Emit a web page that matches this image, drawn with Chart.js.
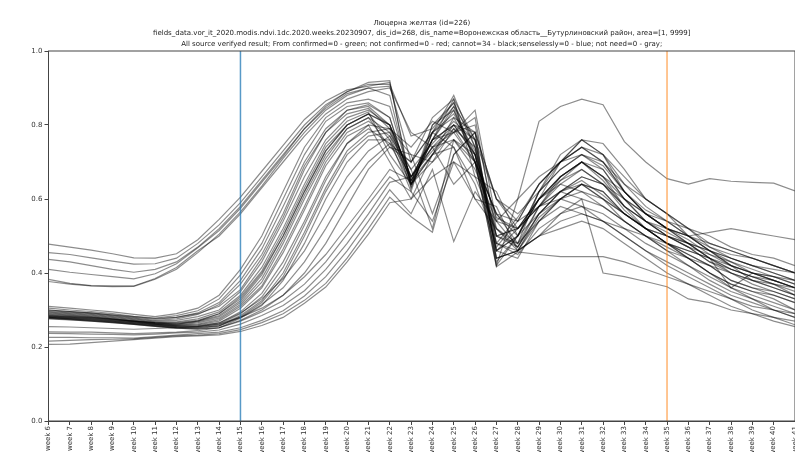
<!DOCTYPE html>
<html>
<head>
<meta charset="utf-8">
<script src="https://cdn.jsdelivr.net/npm/chart.js@4.4.1/dist/chart.umd.min.js"></script>
<style>
  html, body { margin: 0; padding: 0; background: #fff; overflow: hidden; }
  #wrap { width: 795px; height: 452px; }
</style>
</head>
<body>
<div id="wrap"><canvas id="ndviChart" width="795" height="452"></canvas></div>
<script>
const titleLines = [
  'Люцерна желтая (id=226)',
  'fields_data.vor_it_2020.modis.ndvi.1dc.2020.weeks.20230907, dis_id=268, dis_name=Воронежская область__Бутурлиновский район, area=[1, 9999]',
  'All source verifyed result; From confirmed=0 - green; not confirmed=0 - red; cannot=34 - black;senselessly=0 - blue; not need=0 - gray;'
];

const weeks = [];
for (let w = 6; w <= 41; w++) weeks.push('week ' + w);

const yTicks = [0, 0.2, 0.4, 0.6, 0.8, 1.0];
const startWeek = 'week 15';
const endWeek = 'week 35';

// ndvi per field, weeks 6..41
const f01 = [0.478,0.470,0.462,0.452,0.441,0.440,0.452,0.490, 0.545,0.605,0.675,0.745,0.815,0.865,0.895,0.905,0.915, 0.640,0.760,0.800,0.720,0.550,0.520,0.600,0.660,0.700,0.660,0.580,0.540,0.520,0.500,0.510,0.520,0.510,0.500,0.490];
const f02 = [0.455,0.450,0.441,0.432,0.424,0.425,0.440,0.480, 0.530,0.590,0.660,0.730,0.800,0.855,0.890,0.910,0.910, 0.770,0.790,0.860,0.700,0.560,0.540,0.640,0.700,0.740,0.700,0.620,0.560,0.520,0.480,0.460,0.430,0.400,0.390,0.380];
const f03 = [0.437,0.430,0.420,0.410,0.402,0.410,0.430,0.470, 0.520,0.580,0.650,0.720,0.790,0.845,0.885,0.900,0.880, 0.640,0.720,0.780,0.820,0.500,0.480,0.580,0.650,0.680,0.640,0.570,0.520,0.480,0.450,0.420,0.380,0.360,0.350,0.330];
const f04 = [0.410,0.402,0.396,0.390,0.384,0.398,0.425,0.468, 0.515,0.575,0.645,0.715,0.790,0.850,0.890,0.915,0.920, 0.630,0.780,0.850,0.760,0.600,0.560,0.620,0.680,0.720,0.690,0.620,0.570,0.540,0.520,0.470,0.440,0.420,0.410,0.400];
const f05 = [0.383,0.372,0.366,0.365,0.365,0.385,0.415,0.460, 0.500,0.560,0.630,0.700,0.770,0.830,0.870,0.890,0.900, 0.780,0.740,0.780,0.840,0.540,0.470,0.560,0.620,0.650,0.610,0.560,0.520,0.500,0.470,0.430,0.410,0.390,0.370,0.360];
const f06 = [0.377,0.370,0.365,0.363,0.364,0.383,0.410,0.455, 0.505,0.565,0.635,0.710,0.780,0.840,0.880,0.900,0.905, 0.700,0.820,0.870,0.660,0.620,0.500,0.600,0.700,0.760,0.750,0.680,0.600,0.560,0.520,0.500,0.470,0.450,0.440,0.420];
const f07 = [0.310,0.305,0.300,0.295,0.288,0.282,0.290,0.305, 0.340,0.410,0.500,0.620,0.740,0.820,0.860,0.870,0.850, 0.650,0.760,0.870,0.760,0.460,0.500,0.620,0.680,0.720,0.680,0.600,0.540,0.500,0.480,0.440,0.400,0.380,0.370,0.350];
const f08 = [0.305,0.300,0.296,0.290,0.283,0.278,0.285,0.298, 0.330,0.395,0.480,0.600,0.720,0.810,0.850,0.860,0.820, 0.640,0.800,0.840,0.700,0.500,0.470,0.580,0.660,0.700,0.660,0.620,0.560,0.520,0.490,0.450,0.420,0.400,0.380,0.360];
const f09 = [0.300,0.296,0.292,0.286,0.280,0.275,0.280,0.292, 0.320,0.380,0.465,0.580,0.700,0.790,0.840,0.850,0.800, 0.660,0.740,0.800,0.780,0.440,0.460,0.550,0.600,0.640,0.600,0.540,0.500,0.470,0.440,0.400,0.370,0.350,0.340,0.320];
const f10 = [0.298,0.294,0.290,0.284,0.278,0.272,0.276,0.288, 0.315,0.370,0.450,0.560,0.690,0.780,0.830,0.845,0.790, 0.720,0.700,0.760,0.700,0.420,0.600,0.810,0.850,0.870,0.855,0.755,0.700,0.655,0.640,0.655,0.648,0.645,0.643,0.622];
const f11 = [0.296,0.292,0.288,0.282,0.276,0.270,0.272,0.282, 0.300,0.350,0.430,0.540,0.660,0.760,0.820,0.840,0.800, 0.630,0.780,0.880,0.740,0.480,0.550,0.640,0.700,0.760,0.720,0.640,0.580,0.540,0.500,0.460,0.440,0.420,0.400,0.380];
const f12 = [0.294,0.290,0.286,0.280,0.274,0.268,0.268,0.276, 0.295,0.340,0.415,0.520,0.640,0.750,0.810,0.835,0.720, 0.640,0.720,0.820,0.720,0.430,0.500,0.600,0.650,0.700,0.650,0.580,0.540,0.510,0.480,0.440,0.410,0.390,0.370,0.340];
const f13 = [0.292,0.288,0.284,0.278,0.272,0.266,0.266,0.272, 0.290,0.335,0.405,0.510,0.630,0.740,0.800,0.830,0.800, 0.660,0.760,0.780,0.800,0.520,0.470,0.560,0.620,0.600,0.400,0.390,0.377,0.363,0.330,0.320,0.300,0.290,0.280,0.270];
const f14 = [0.290,0.286,0.282,0.276,0.270,0.266,0.264,0.270, 0.285,0.325,0.395,0.500,0.620,0.730,0.800,0.830,0.760, 0.620,0.800,0.860,0.740,0.460,0.500,0.620,0.700,0.740,0.700,0.620,0.560,0.520,0.480,0.440,0.420,0.400,0.390,0.370];
const f15 = [0.288,0.285,0.281,0.276,0.270,0.265,0.262,0.268, 0.282,0.320,0.385,0.490,0.610,0.720,0.790,0.820,0.780, 0.650,0.740,0.760,0.680,0.540,0.600,0.660,0.700,0.720,0.700,0.640,0.600,0.560,0.500,0.460,0.420,0.380,0.360,0.340];
const f16 = [0.286,0.283,0.280,0.275,0.270,0.264,0.260,0.265, 0.278,0.315,0.375,0.480,0.600,0.710,0.790,0.820,0.740, 0.700,0.780,0.820,0.780,0.440,0.460,0.500,0.560,0.600,0.580,0.540,0.500,0.460,0.440,0.420,0.400,0.380,0.360,0.340];
const f17 = [0.284,0.281,0.278,0.274,0.269,0.263,0.259,0.262, 0.274,0.310,0.365,0.465,0.580,0.700,0.780,0.810,0.770, 0.640,0.760,0.840,0.720,0.460,0.520,0.580,0.640,0.680,0.640,0.580,0.540,0.500,0.470,0.450,0.430,0.410,0.390,0.370];
const f18 = [0.283,0.280,0.277,0.273,0.268,0.262,0.258,0.260, 0.270,0.305,0.360,0.455,0.570,0.690,0.770,0.800,0.700, 0.600,0.720,0.800,0.760,0.480,0.460,0.540,0.600,0.640,0.620,0.560,0.520,0.480,0.450,0.420,0.380,0.360,0.340,0.320];
const f19 = [0.282,0.279,0.276,0.272,0.267,0.262,0.257,0.258, 0.265,0.292,0.330,0.385,0.460,0.560,0.660,0.730,0.770, 0.680,0.520,0.760,0.720,0.500,0.520,0.600,0.640,0.620,0.600,0.560,0.520,0.500,0.480,0.460,0.440,0.420,0.400,0.380];
const f20 = [0.281,0.278,0.275,0.271,0.266,0.261,0.256,0.256, 0.265,0.295,0.345,0.430,0.540,0.660,0.750,0.790,0.750, 0.640,0.700,0.790,0.700,0.417,0.457,0.450,0.444,0.444,0.444,0.430,0.410,0.390,0.370,0.350,0.330,0.310,0.300,0.290];
const f21 = [0.280,0.277,0.274,0.270,0.265,0.260,0.255,0.255, 0.262,0.290,0.335,0.415,0.530,0.650,0.750,0.800,0.790, 0.650,0.780,0.830,0.730,0.470,0.540,0.640,0.700,0.740,0.720,0.660,0.600,0.560,0.520,0.480,0.460,0.440,0.420,0.400];
const f22 = [0.280,0.276,0.273,0.269,0.264,0.259,0.254,0.253, 0.258,0.280,0.315,0.360,0.430,0.520,0.620,0.700,0.750, 0.700,0.780,0.740,0.600,0.520,0.480,0.540,0.580,0.560,0.540,0.520,0.500,0.480,0.460,0.440,0.410,0.390,0.380,0.360];
const f23 = [0.279,0.276,0.272,0.268,0.263,0.258,0.253,0.252, 0.258,0.285,0.325,0.400,0.510,0.630,0.730,0.780,0.790, 0.740,0.810,0.780,0.700,0.560,0.480,0.620,0.720,0.760,0.720,0.620,0.560,0.520,0.500,0.470,0.450,0.440,0.420,0.400];
const f24 = [0.278,0.275,0.271,0.267,0.262,0.257,0.252,0.250, 0.256,0.282,0.320,0.390,0.500,0.620,0.720,0.770,0.780, 0.680,0.750,0.810,0.760,0.420,0.500,0.600,0.660,0.700,0.660,0.600,0.540,0.500,0.470,0.430,0.400,0.370,0.350,0.330];
const f25 = [0.277,0.274,0.270,0.266,0.261,0.256,0.251,0.249, 0.252,0.272,0.300,0.340,0.400,0.480,0.580,0.680,0.740, 0.720,0.560,0.720,0.780,0.600,0.520,0.580,0.620,0.660,0.640,0.600,0.560,0.540,0.500,0.460,0.420,0.400,0.380,0.360];
const f26 = [0.276,0.273,0.270,0.266,0.261,0.256,0.251,0.248, 0.252,0.278,0.312,0.380,0.480,0.600,0.700,0.760,0.760, 0.660,0.760,0.850,0.700,0.440,0.460,0.560,0.620,0.660,0.640,0.580,0.520,0.480,0.440,0.400,0.370,0.350,0.330,0.300];
const f27 = [0.300,0.296,0.292,0.287,0.282,0.277,0.280,0.290, 0.310,0.355,0.440,0.550,0.680,0.780,0.840,0.855,0.820, 0.640,0.760,0.800,0.720,0.460,0.440,0.540,0.600,0.640,0.620,0.560,0.520,0.480,0.460,0.440,0.360,0.400,0.380,0.360];
const f28 = [0.285,0.282,0.279,0.275,0.270,0.265,0.262,0.270, 0.290,0.330,0.400,0.500,0.620,0.730,0.800,0.830,0.800, 0.660,0.730,0.790,0.740,0.500,0.520,0.600,0.660,0.700,0.680,0.600,0.560,0.520,0.500,0.480,0.460,0.440,0.420,0.400];
const f29 = [0.255,0.254,0.252,0.250,0.248,0.250,0.252,0.255, 0.262,0.280,0.305,0.340,0.390,0.450,0.525,0.600,0.680, 0.650,0.720,0.740,0.640,0.480,0.450,0.520,0.560,0.580,0.560,0.520,0.480,0.450,0.420,0.390,0.360,0.340,0.320,0.300];
const f30 = [0.241,0.240,0.240,0.238,0.236,0.238,0.240,0.244, 0.252,0.270,0.295,0.325,0.370,0.430,0.505,0.585,0.660, 0.620,0.540,0.700,0.660,0.520,0.460,0.500,0.540,0.560,0.540,0.500,0.460,0.430,0.400,0.370,0.340,0.320,0.300,0.280];
const f31 = [0.237,0.236,0.235,0.234,0.233,0.235,0.238,0.240, 0.246,0.262,0.285,0.312,0.352,0.410,0.480,0.560,0.645, 0.660,0.740,0.640,0.700,0.560,0.500,0.560,0.600,0.620,0.580,0.540,0.500,0.460,0.420,0.380,0.350,0.330,0.310,0.290];
const f32 = [0.226,0.226,0.225,0.225,0.224,0.228,0.232,0.236, 0.240,0.252,0.272,0.298,0.338,0.390,0.460,0.540,0.625, 0.560,0.680,0.485,0.620,0.540,0.520,0.580,0.620,0.640,0.600,0.560,0.520,0.480,0.440,0.400,0.360,0.330,0.300,0.280];
const f33 = [0.216,0.218,0.220,0.221,0.222,0.226,0.230,0.232, 0.236,0.247,0.266,0.290,0.326,0.372,0.440,0.520,0.605, 0.552,0.510,0.720,0.780,0.600,0.540,0.580,0.600,0.580,0.540,0.500,0.460,0.420,0.390,0.360,0.330,0.300,0.280,0.260];
const f34 = [0.207,0.208,0.212,0.216,0.220,0.224,0.228,0.230, 0.233,0.242,0.258,0.280,0.318,0.362,0.430,0.505,0.590, 0.600,0.660,0.700,0.600,0.580,0.460,0.500,0.520,0.540,0.520,0.480,0.440,0.400,0.370,0.340,0.310,0.290,0.270,0.255];

const fields = [f01, f02, f03, f04, f05, f06, f07, f08, f09, f10, f11, f12, f13, f14, f15, f16, f17,
                f18, f19, f20, f21, f22, f23, f24, f25, f26, f27, f28, f29, f30, f31, f32, f33, f34];

const axisColor = '#444';
const tickFont = { family: 'DejaVu Sans', size: 7 };

// figure title over the plot, centred on the axes box
const titlePlugin = {
  id: 'figTitle',
  afterDraw(chart) {
    const { ctx, chartArea } = chart;
    const cx = (chartArea.left + chartArea.right) / 2;
    ctx.save();
    ctx.fillStyle = '#222';
    ctx.font = '7px "DejaVu Sans"';
    ctx.textAlign = 'center';
    ctx.textBaseline = 'middle';
    titleLines.forEach((t, i) => ctx.fillText(t, cx, 23 + i * 10.5));
    ctx.restore();
  }
};

// full box around the axes (top and right spines too)
const framePlugin = {
  id: 'frame',
  afterDatasetsDraw(chart) {
    const { ctx, chartArea: a } = chart;
    ctx.save();
    ctx.strokeStyle = axisColor;
    ctx.lineWidth = 1;
    ctx.strokeRect(a.left, a.top, a.right - a.left, a.bottom - a.top);
    ctx.restore();
  }
};

const datasets = fields.map(vals => ({
  data: vals,
  borderColor: 'rgba(0,0,0,0.45)',
  borderWidth: 1.2,
  pointRadius: 0,
  tension: 0,
  fill: false
}));

datasets.push({
  data: [{ x: startWeek, y: 0 }, { x: startWeek, y: 1 }],
  borderColor: 'rgba(31,119,180,0.75)',
  borderWidth: 1.5,
  pointRadius: 0,
  order: -1
});
datasets.push({
  data: [{ x: endWeek, y: 0 }, { x: endWeek, y: 1 }],
  borderColor: 'rgba(255,127,14,0.6)',
  borderWidth: 1.5,
  pointRadius: 0,
  order: -1
});

new Chart(document.getElementById('ndviChart'), {
  type: 'line',
  data: { labels: weeks, datasets: datasets },
  options: {
    responsive: false,
    animation: false,
    events: [],
    layout: { padding: { top: 51, left: 0, right: 0, bottom: 0 } },
    plugins: {
      legend: { display: false },
      tooltip: { enabled: false }
    },
    scales: {
      x: {
        type: 'category',
        offset: false,
        grid: { drawOnChartArea: false, color: axisColor, tickLength: 4 },
        border: { color: axisColor },
        ticks: {
          autoSkip: false,
          minRotation: 90,
          maxRotation: 90,
          padding: 1,
          color: '#333',
          font: tickFont
        },
        afterFit(scale) {
          scale.height = 31;
          scale.paddingLeft = 0;
          scale.paddingRight = 0;
        }
      },
      y: {
        min: 0,
        max: 1,
        afterBuildTicks(scale) {
          scale.ticks = yTicks.map(v => ({ value: v }));
        },
        grid: { drawOnChartArea: false, color: axisColor, tickLength: 4 },
        border: { color: axisColor },
        ticks: {
          padding: 2,
          color: '#333',
          font: tickFont,
          callback: v => v.toFixed(1)
        },
        afterFit(scale) {
          scale.width = 48.5;
        }
      }
    }
  },
  plugins: [titlePlugin, framePlugin]
});
</script>
</body>
</html>
